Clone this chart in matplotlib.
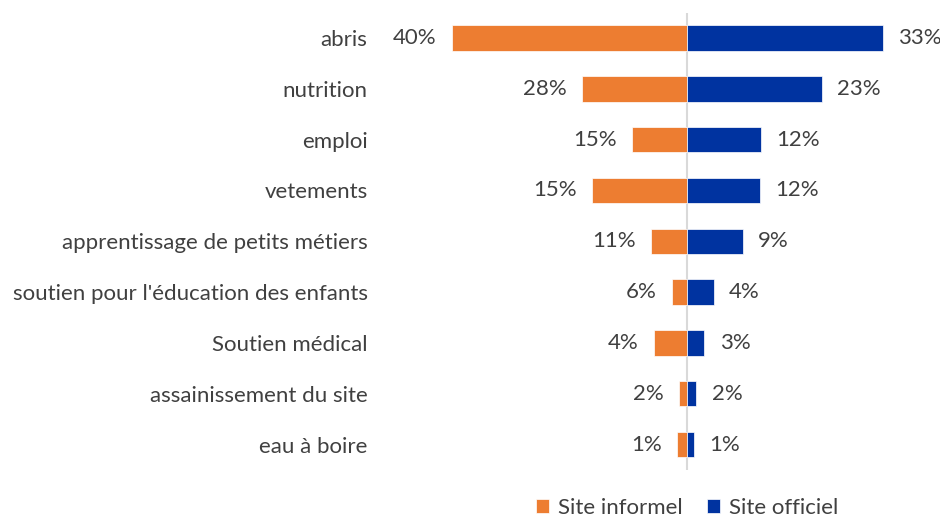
import numpy as np
import matplotlib.pyplot as plt

plt.rcParams['font.family'] = ['Lato', 'DejaVu Sans']

categories = ["abris", "nutrition", "emploi", "vetements",
              "apprentissage de petits métiers",
              "soutien pour l'éducation des enfants",
              "Soutien médical", "assainissement du site", "eau à boire"]

# bar lengths as drawn (in %), and the labels printed next to them
informel = [39.6, 17.7, 9.2, 16.0, 6.0, 2.5, 5.6, 1.3, 1.7]
informel_labels = ["40%", "28%", "15%", "15%", "11%", "6%", "4%", "2%", "1%"]
officiel = [33.0, 22.8, 12.5, 12.3, 9.4, 4.5, 2.95, 1.6, 1.1]
officiel_labels = ["33%", "23%", "12%", "12%", "9%", "4%", "3%", "2%", "1%"]

orange = "#ED7D31"
blue = "#0033A0"
txt = "#404040"
fs = 16

fig = plt.figure(figsize=(9.4, 5.2), dpi=100)
ax = fig.add_axes([0.4154, 0.0963, 0.5678, 0.8794])

y = np.arange(len(categories))
b1 = ax.barh(y, -np.array(informel), height=0.5, color=orange, edgecolor="white", linewidth=0.5, label="Site informel")
b2 = ax.barh(y, officiel, height=0.5, color=blue, edgecolor="white", linewidth=0.5, label="Site officiel")

for yi, v, lab in zip(y, informel, informel_labels):
    ax.annotate(lab, (-v, yi), xytext=(-11, 0), textcoords="offset points",
                ha="right", va="center", fontsize=fs, color=txt)
for yi, v, lab in zip(y, officiel, officiel_labels):
    ax.annotate(lab, (v, yi), xytext=(11, 0), textcoords="offset points",
                ha="left", va="center", fontsize=fs, color=txt)

ax.axvline(0, color="#d9d9d9", linewidth=1.5, zorder=0)
ax.set_xlim(-50, 40)
ax.set_ylim(8.5, -0.5)
ax.set_yticks(y)
ax.set_yticklabels(categories, fontsize=fs, color=txt)
ax.tick_params(axis="y", length=0, pad=16.5)
ax.set_xticks([])
for s in ax.spines.values():
    s.set_visible(False)

fig.legend(handles=[b1, b2], loc="center", bbox_to_anchor=(0.731, 0.024),
           ncol=2, frameon=False, fontsize=fs, handlelength=0.6, handleheight=0.6,
           handletextpad=0.4, columnspacing=1.1, labelcolor=txt,
           borderpad=0.1)

fig.savefig("out.png", dpi=100)
